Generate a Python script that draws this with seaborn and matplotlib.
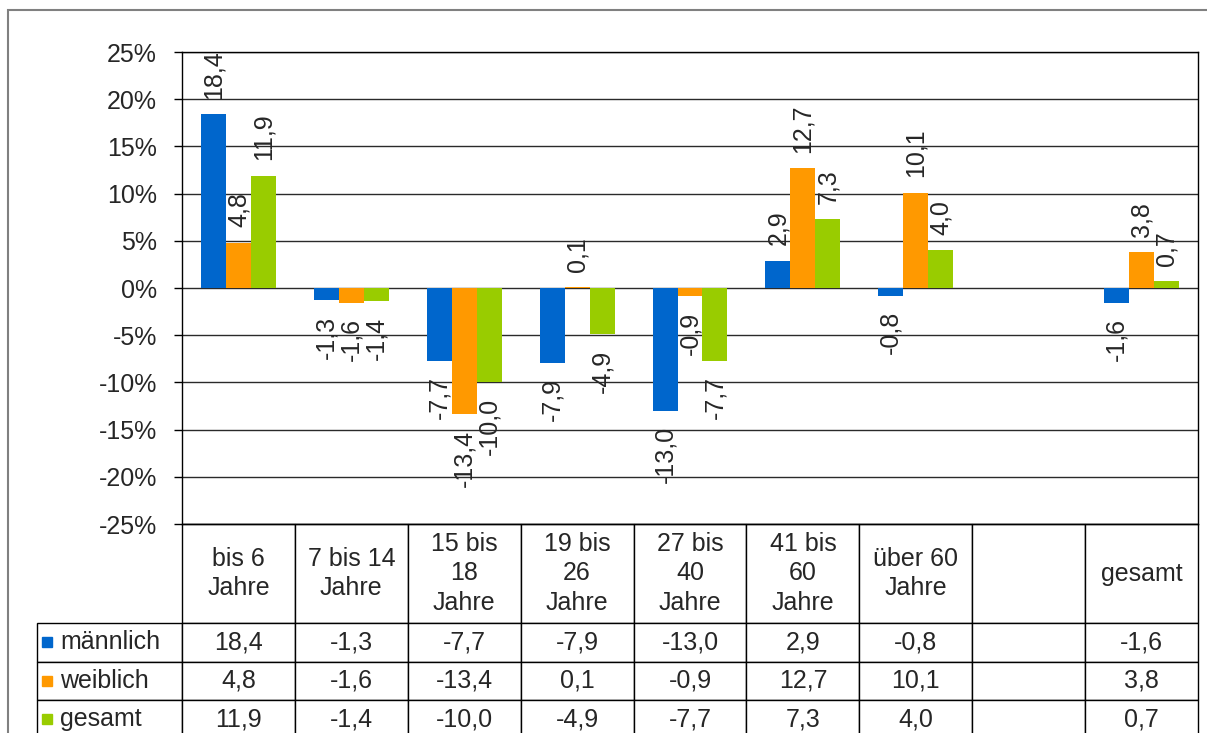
import numpy as np
import pandas as pd
import seaborn as sns
from matplotlib import pyplot as plt
from matplotlib.table import Table
from matplotlib.patches import Rectangle
from matplotlib.ticker import FuncFormatter

kategorien = ['bis 6\nJahre', '7 bis 14\nJahre', '15 bis\n18\nJahre', '19 bis\n26\nJahre',
              '27 bis\n40\nJahre', '41 bis\n60\nJahre', 'über 60\nJahre', '', 'gesamt']
gruppen = ['männlich', 'weiblich', 'gesamt']
maennlich = [18.4, -1.3, -7.7, -7.9, -13.0, 2.9, -0.8, np.nan, -1.6]
weiblich = [4.8, -1.6, -13.4, 0.1, -0.9, 12.7, 10.1, np.nan, 3.8]
gesamt = [11.9, -1.4, -10.0, -4.9, -7.7, 7.3, 4.0, np.nan, 0.7]
farben = ['#0066CC', '#FF9900', '#99CC00']

werte = {'männlich': maennlich, 'weiblich': weiblich, 'gesamt': gesamt}
df = pd.DataFrame([(k, g, werte[g][i]) for g in gruppen for i, k in enumerate(kategorien)],
                  columns=['Kategorie', 'Gruppe', 'Wert'])

def komma(v):
    return f'{v:.1f}'.replace('.', ',')

sns.set_style('white')
plt.rcParams['font.family'] = ['Liberation Sans', 'DejaVu Sans']
fs = 18

fig = plt.figure(figsize=(12.07, 7.33), dpi=100)
ax = fig.add_axes([182/1207, 1-524/733, 1016/1207, 472/733])

sns.barplot(data=df, x='Kategorie', y='Wert', hue='Gruppe', order=kategorien,
            hue_order=gruppen, palette=farben, width=0.664, saturation=1,
            legend=False, ax=ax, edgecolor='none')

for cont in ax.containers:
    ax.bar_label(cont, fmt=komma, rotation=90, padding=11, fontsize=fs)

ax.set_xlim(-0.5, len(kategorien) - 0.5)
ax.set_ylim(-25, 25)
ax.set_yticks(range(-25, 30, 5))
ax.yaxis.set_major_formatter(FuncFormatter(lambda v, p: f'{int(v)}%'))
ax.tick_params(axis='y', length=6, width=1, pad=12, labelsize=fs, left=True, color='black')
ax.tick_params(axis='x', length=0, labelbottom=False)
ax.set_xlabel('')
ax.set_ylabel('')
ax.grid(axis='y', color='#2a2a2a', lw=1)
ax.set_axisbelow(True)
for s in ax.spines.values():
    s.set_color('black')
    s.set_linewidth(1)

# Datentabelle unter dem Diagramm
w_lab = 145 / 1016
w_col = 1 / 9
h_kopf = 99 / 472
h_zeile = 38.5 / 472
tab = Table(ax, bbox=[0, -(h_kopf + 3*h_zeile), 1, h_kopf + 3*h_zeile])
for j, k in enumerate(kategorien):
    c = tab.add_cell(0, j, width=w_col, height=h_kopf, text=k, loc='center')
    c.get_text().set_linespacing(1.3)
for i, g in enumerate(gruppen):
    c = tab.add_cell(i + 1, -1, width=w_lab, height=h_zeile, text=g, loc='left')
    c.PAD = 0.16
    for j in range(len(kategorien)):
        v = werte[g][j]
        tab.add_cell(i + 1, j, width=w_col, height=h_zeile,
                     text='' if np.isnan(v) else komma(v), loc='center')
tab.auto_set_font_size(False)
tab.set_fontsize(fs)
for c in tab.get_celld().values():
    c.set_edgecolor('black')
    c.set_linewidth(1)
tab.set_clip_on(False)
ax.add_table(tab)

# Legendensymbole in der Tabelle
for i, f in enumerate(farben):
    ax.plot([(46.5 - 182) / 1016], [-(h_kopf + (i + 0.5) * h_zeile)], marker='s', ms=7,
            color=f, transform=ax.transAxes, clip_on=False)

fig.patches.append(Rectangle((8/1207, -0.1), 1.2, 1 - 10/733 + 0.1, transform=fig.transFigure,
                             fill=False, edgecolor='#808080', lw=1.5))

fig.savefig('out.png', dpi=100)
